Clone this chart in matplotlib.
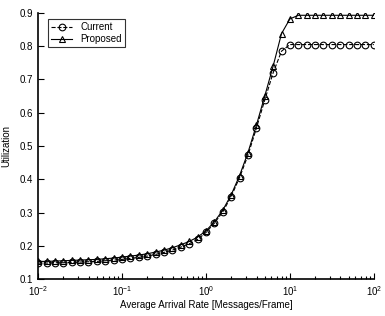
import numpy as np
import matplotlib
matplotlib.use("Agg")
import matplotlib.pyplot as plt

# arrival rate: 10 points per decade from 1e-2 to 1e2
log_rate = [-2.0, -1.9, -1.8, -1.7, -1.6, -1.5, -1.4, -1.3, -1.2, -1.1,
            -1.0, -0.9, -0.8, -0.7, -0.6, -0.5, -0.4, -0.3, -0.2, -0.1,
            0.0, 0.1, 0.2, 0.3, 0.4, 0.5, 0.6, 0.7, 0.8, 0.9,
            1.0, 1.1, 1.2, 1.3, 1.4, 1.5, 1.6, 1.7, 1.8, 1.9, 2.0]
current = [0.148, 0.148, 0.149, 0.149, 0.150, 0.151, 0.152, 0.153, 0.155, 0.157,
           0.159, 0.162, 0.165, 0.169, 0.174, 0.180, 0.187, 0.196, 0.206, 0.219,
           0.240, 0.268, 0.302, 0.348, 0.405, 0.472, 0.553, 0.638, 0.720, 0.785,
           0.805, 0.805, 0.805, 0.805, 0.805, 0.805, 0.805, 0.805, 0.805, 0.805, 0.805]
proposed = [0.153, 0.153, 0.154, 0.155, 0.156, 0.157, 0.158, 0.159, 0.161, 0.163,
            0.166, 0.169, 0.172, 0.176, 0.181, 0.187, 0.194, 0.203, 0.213, 0.226,
            0.245, 0.272, 0.307, 0.353, 0.411, 0.480, 0.562, 0.650, 0.740, 0.838,
            0.882, 0.893, 0.893, 0.893, 0.893, 0.893, 0.893, 0.893, 0.893, 0.893, 0.893]
yticks = [0.1, 0.2, 0.3, 0.4, 0.5, 0.6, 0.7, 0.8, 0.9]

rate = [10 ** v for v in log_rate]

plt.rcParams['font.family'] = ['Liberation Sans', 'DejaVu Sans']
fig = plt.figure(figsize=(3.85, 3.16), dpi=100)
ax = fig.add_axes([0.099, 0.117, 0.872, 0.842])

ax.plot(rate, current, linestyle='--', color='black', linewidth=0.8,
        marker='o', markersize=4.8, markerfacecolor='none', markeredgewidth=0.8,
        label='Current')
ax.plot(rate, proposed, linestyle='-', color='black', linewidth=0.8,
        marker='^', markersize=4.8, markerfacecolor='none', markeredgewidth=0.8,
        label='Proposed')

ax.set_xscale('log')
ax.set_xlim(0.01, 100)
ax.set_ylim(0.1, 0.9)
ax.set_yticks(yticks)
ax.set_yticklabels([f"{t:.1f}" for t in yticks])

for s in ['top', 'right']:
    ax.spines[s].set_visible(False)
for s in ['left', 'bottom']:
    ax.spines[s].set_linewidth(1.2)

ax.tick_params(axis='both', which='both', direction='in', labelsize=7, width=0.8)
ax.tick_params(axis='both', which='major', length=4)
ax.tick_params(axis='x', which='minor', length=2.5)

ax.set_xlabel('Average Arrival Rate [Messages/Frame]', fontsize=7, labelpad=2)
ax.set_ylabel('Utilization', fontsize=7, labelpad=6)

leg = ax.legend(loc='upper left', fontsize=7, frameon=True, fancybox=False,
                edgecolor='black', borderpad=0.3, handlelength=2.2,
                labelspacing=0.2, bbox_to_anchor=(0.015, 0.995))
leg.get_frame().set_linewidth(0.8)

fig.savefig('out.png', dpi=100)
